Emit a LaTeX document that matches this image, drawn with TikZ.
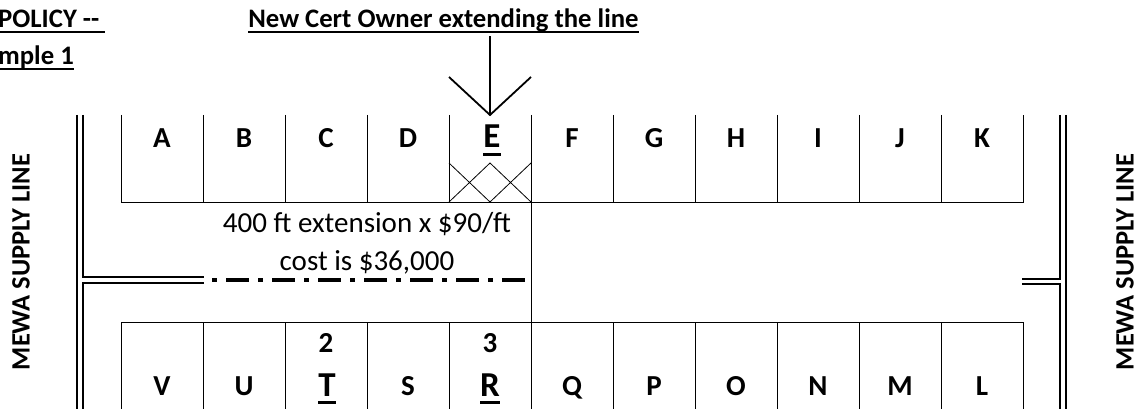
\documentclass[tikz,border=0pt]{standalone}
\usepackage{fontspec}
\setmainfont{Carlito}
\newcommand{\ulhead}[1]{\setbox0\hbox{#1}\rlap{\rule[-5pt]{\wd0}{2pt}}\box0}
\newcommand{\ullot}[1]{\setbox0\hbox{\fontsize{35}{35}\selectfont#1}\rlap{\rule[-7.5pt]{\wd0}{3pt}}\box0}
\tikzset{
  lotline/.style={line width=1pt},
  pipe/.style={line width=2.4pt},
  lotname/.style={anchor=base,inner sep=0pt,font=\fontsize{29}{29}\selectfont\bfseries},
  headline/.style={anchor=base west,inner sep=0pt,font=\fontsize{26.7}{26.7}\selectfont\bfseries},
  supply/.style={rotate=90,inner sep=0pt,font=\fontsize{26.5}{26.5}\selectfont\bfseries},
  costtext/.style={anchor=base,inner sep=0pt,font=\fontsize{29}{29}\selectfont}
}
\begin{document}
\begin{tikzpicture}[x=1pt,y=-1pt]
  \useasboundingbox (0,0) rectangle (1138,409);

  % titles
  \node[headline] (policy) at (-2,28) {\ulhead{POLICY -{}-\ }};
  \node[headline] (example) at (-2,65) {\ulhead{mple 1}};
  \node[headline,anchor=base] (newcert) at (443.5,28) {\ulhead{New Cert Owner extending the line}};

  % lots
  \draw[lotline] (121,115) -- (121,202) -- (1023,202) -- (1023,115);
  \draw[lotline] (121,409) -- (121,322) -- (1023,322) -- (1023,409);
  \foreach \x in {203,285,367,449,531,613,695,777,859,941} {
    \draw[lotline] (\x,115) -- (\x,202);
    \draw[lotline] (\x,322) -- (\x,409);
  }
  \draw[lotline] (531,202) -- (531,322);
  \draw[line width=0.8pt] (449,163) -- (490,202) -- (531,163);
  \draw[line width=0.8pt] (449,202) -- (490,163) -- (531,202);

  \begin{scope}[every node/.style={lotname}]
    \node (A) at (162,148) {A};
    \node (B) at (244,148) {B};
    \node (C) at (326,148) {C};
    \node (D) at (408,148) {D};
    \node (E) at (492,148) {\ullot{E}};
    \node (F) at (572,148) {F};
    \node (G) at (654,148) {G};
    \node (H) at (736,148) {H};
    \node (I) at (818,148) {I};
    \node (J) at (900,148) {J};
    \node (K) at (982,148) {K};
    \node (V) at (162,395) {V};
    \node (U) at (244,395) {U};
    \node (T) at (327,396) {\ullot{T}};
    \node (S) at (408,395) {S};
    \node (R) at (490,396) {\ullot{R}};
    \node (Q) at (572,395) {Q};
    \node (P) at (654,395) {P};
    \node (O) at (736,395) {O};
    \node (N) at (818,395) {N};
    \node (M) at (900,395) {M};
    \node (L) at (982,395) {L};
    \node (two) at (326,352) {2};
    \node (three) at (490,352) {3};
  \end{scope}

  % arrow to the new lot
  \coordinate (tip) at (490,115);
  \draw[line width=1.8pt] (tip |- newcert.south) ++(0,3) -- (tip);
  \draw[line width=1.8pt] (tip) ++(-41,-38) -- (tip) -- ++(41,-38);

  % cost
  \node[costtext] (cost) at (367,232) {400 ft extension x \$90/ft};
  \node[costtext] (total) at (367,270) {cost is \$36,000};

  % supply lines
  \draw[pipe] (77,115) -- (77,409);
  \draw[pipe] (83,115) -- (83,277) -- (204,277);
  \draw[pipe] (83,409) -- (83,283) -- (204,283);
  \draw[pipe] (1066,115) -- (1066,409);
  \draw[pipe] (1060,115) -- (1060,279) -- (1022,279);
  \draw[pipe] (1060,409) -- (1060,284) -- (1022,284);
  \draw[line width=4pt,dash pattern=on 5pt off 9pt on 23pt off 9pt] (212,280) -- (530,280);

  \node[supply] (westline) at (21,262) {MEWA SUPPLY LINE};
  \node[supply] (eastline) at (1125,262) {MEWA SUPPLY LINE};
\end{tikzpicture}
\end{document}
